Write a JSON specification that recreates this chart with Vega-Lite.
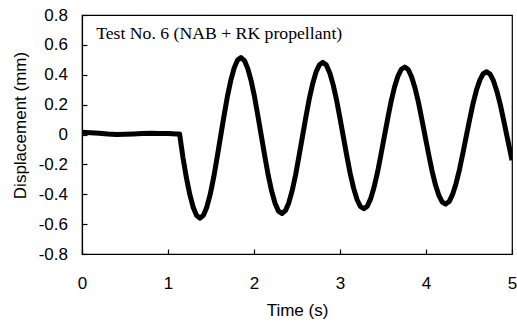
{
  "$schema": "https://vega.github.io/schema/vega-lite/v6.json",
  "width": 430,
  "height": 239,
  "autosize": "none",
  "padding": {"left": 82, "top": 15, "right": 5, "bottom": 69},
  "background": "white",
  "config": {
    "view": {"stroke": "black", "strokeWidth": 1.2},
    "axis": {
      "grid": false,
      "domainColor": "black",
      "domainWidth": 1.2,
      "tickColor": "black",
      "tickWidth": 1.2,
      "tickSize": -5,
      "labelColor": "black",
      "labelFont": "Liberation Sans",
      "labelFontSize": 17,
      "labelFlush": false,
      "labelOverlap": false,
      "titleFont": "Liberation Sans",
      "titleFontSize": 17,
      "titleFontWeight": "normal",
      "titleColor": "black"
    }
  },
  "encoding": {
    "x": {
      "field": "t", "type": "quantitative",
      "scale": {"domain": [0, 5], "nice": false, "zero": false},
      "axis": {"values": [0, 1, 2, 3, 4, 5], "format": "d", "title": "Time (s)", "labelPadding": 26, "titlePadding": 11, "labelOverlap": false}
    },
    "y": {
      "field": "d", "type": "quantitative",
      "scale": {"domain": [-0.8, 0.8], "nice": false, "zero": false},
      "axis": {
        "values": [-0.8, -0.6, -0.4, -0.2, 0, 0.2, 0.4, 0.6, 0.8],
        "format": ".1~f",
        "labelExpr": "replace(datum.label, '\u2212', '-')",
        "title": "Displacement (mm)", "labelPadding": 19.5, "titlePadding": 9, "titleY": 110, "labelOverlap": false
      }
    }
  },
  "layer": [
    {
      "data": {"values": [
        {"t": 0.0, "d": 0.015}, {"t": 0.1, "d": 0.011}, {"t": 0.2, "d": 0.008}, {"t": 0.3, "d": 0.003},
        {"t": 0.4, "d": 0.0}, {"t": 0.5, "d": 0.001}, {"t": 0.6, "d": 0.003}, {"t": 0.7, "d": 0.006},
        {"t": 0.8, "d": 0.008}, {"t": 0.9, "d": 0.007}, {"t": 1.0, "d": 0.006}, {"t": 1.1, "d": 0.004},
        {"t": 1.135, "d": 0.003},
        {"t": 1.175, "d": -0.158}, {"t": 1.214, "d": -0.290}, {"t": 1.254, "d": -0.403}, {"t": 1.294, "d": -0.489},
        {"t": 1.333, "d": -0.543}, {"t": 1.373, "d": -0.560}, {"t": 1.413, "d": -0.540}, {"t": 1.452, "d": -0.485},
        {"t": 1.492, "d": -0.398}, {"t": 1.532, "d": -0.285}, {"t": 1.571, "d": -0.154}, {"t": 1.611, "d": -0.015},
        {"t": 1.651, "d": 0.124}, {"t": 1.690, "d": 0.252}, {"t": 1.730, "d": 0.362}, {"t": 1.770, "d": 0.446},
        {"t": 1.809, "d": 0.498}, {"t": 1.849, "d": 0.515}, {"t": 1.889, "d": 0.495}, {"t": 1.928, "d": 0.441},
        {"t": 1.968, "d": 0.357}, {"t": 2.008, "d": 0.247}, {"t": 2.047, "d": 0.120}, {"t": 2.087, "d": -0.015},
        {"t": 2.127, "d": -0.150}, {"t": 2.166, "d": -0.275}, {"t": 2.206, "d": -0.381}, {"t": 2.246, "d": -0.462},
        {"t": 2.285, "d": -0.513}, {"t": 2.325, "d": -0.529}, {"t": 2.365, "d": -0.510}, {"t": 2.404, "d": -0.458},
        {"t": 2.444, "d": -0.376}, {"t": 2.484, "d": -0.269}, {"t": 2.523, "d": -0.146}, {"t": 2.563, "d": -0.015},
        {"t": 2.603, "d": 0.116}, {"t": 2.642, "d": 0.237}, {"t": 2.682, "d": 0.340}, {"t": 2.722, "d": 0.419},
        {"t": 2.761, "d": 0.467}, {"t": 2.801, "d": 0.483}, {"t": 2.841, "d": 0.465}, {"t": 2.880, "d": 0.414},
        {"t": 2.920, "d": 0.334}, {"t": 2.960, "d": 0.231}, {"t": 2.999, "d": 0.112}, {"t": 3.039, "d": -0.015},
        {"t": 3.079, "d": -0.142}, {"t": 3.118, "d": -0.259}, {"t": 3.158, "d": -0.359}, {"t": 3.198, "d": -0.435},
        {"t": 3.237, "d": -0.482}, {"t": 3.277, "d": -0.497}, {"t": 3.317, "d": -0.480}, {"t": 3.356, "d": -0.431},
        {"t": 3.396, "d": -0.353}, {"t": 3.436, "d": -0.254}, {"t": 3.475, "d": -0.138}, {"t": 3.515, "d": -0.015},
        {"t": 3.555, "d": 0.107}, {"t": 3.594, "d": 0.221}, {"t": 3.634, "d": 0.318}, {"t": 3.674, "d": 0.391},
        {"t": 3.713, "d": 0.437}, {"t": 3.753, "d": 0.452}, {"t": 3.793, "d": 0.435}, {"t": 3.832, "d": 0.387},
        {"t": 3.872, "d": 0.312}, {"t": 3.912, "d": 0.216}, {"t": 3.951, "d": 0.104}, {"t": 3.991, "d": -0.015},
        {"t": 4.031, "d": -0.133}, {"t": 4.070, "d": -0.243}, {"t": 4.110, "d": -0.337}, {"t": 4.150, "d": -0.408},
        {"t": 4.189, "d": -0.452}, {"t": 4.229, "d": -0.466}, {"t": 4.269, "d": -0.449}, {"t": 4.308, "d": -0.403},
        {"t": 4.348, "d": -0.331}, {"t": 4.388, "d": -0.238}, {"t": 4.427, "d": -0.130}, {"t": 4.467, "d": -0.015},
        {"t": 4.507, "d": 0.099}, {"t": 4.546, "d": 0.205}, {"t": 4.586, "d": 0.296}, {"t": 4.626, "d": 0.364},
        {"t": 4.665, "d": 0.407}, {"t": 4.705, "d": 0.420}, {"t": 4.745, "d": 0.404}, {"t": 4.784, "d": 0.360},
        {"t": 4.824, "d": 0.290}, {"t": 4.864, "d": 0.200}, {"t": 4.903, "d": 0.096}, {"t": 4.943, "d": -0.015},
        {"t": 4.983, "d": -0.125}, {"t": 5.0, "d": -0.172}
      ]},
      "mark": {"type": "line", "color": "black", "strokeWidth": 5, "strokeJoin": "round", "strokeCap": "butt", "clip": true}
    },
    {
      "data": {"values": [{"t": 0.165, "d": 0.639, "label": "Test No. 6 (NAB + RK propellant)"}]},
      "mark": {"type": "text", "align": "left", "baseline": "alphabetic", "font": "Liberation Serif", "fontSize": 17.7, "color": "black"},
      "encoding": {
        "text": {"field": "label"}
      }
    }
  ]
}
